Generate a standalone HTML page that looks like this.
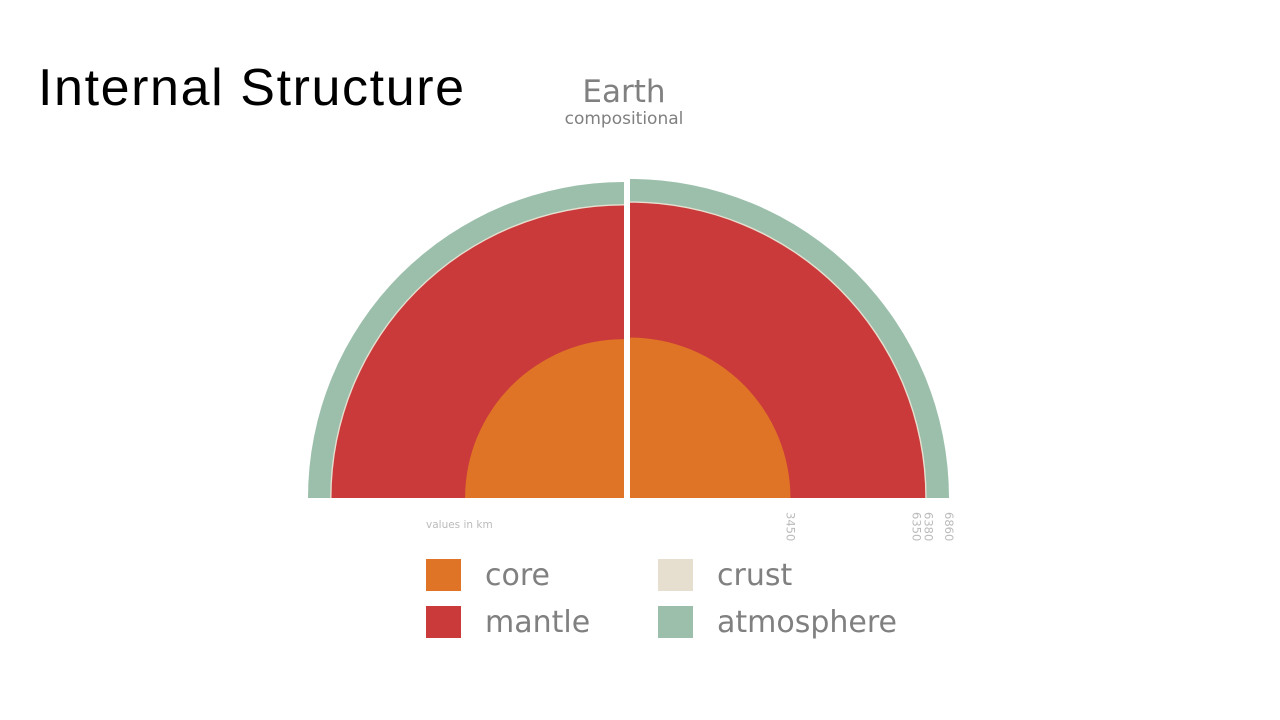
<!DOCTYPE html>
<html><head><meta charset="utf-8"><style>
body{margin:0;width:1280px;height:720px;background:#fff;overflow:hidden;font-family:"Liberation Sans",sans-serif}
#title{position:absolute;left:38px;top:58px;font-size:52px;color:#000;font-family:"Liberation Sans",sans-serif;letter-spacing:1.6px;white-space:nowrap}
svg text{font-family:"DejaVu Sans",sans-serif}
</style></head><body>
<div id="title">Internal Structure</div>
<svg id="chart" width="1280" height="720" style="position:absolute;left:0;top:0">
<text x="624" y="102" text-anchor="middle" font-size="31" fill="#808080">Earth</text>
<text x="624" y="124" text-anchor="middle" font-size="17" fill="#808080">compositional</text>
<g id="left"></g><g id="right"></g><g id="ticks"></g>
<text x="426" y="528" font-size="10.5" fill="#bbb">values in km</text>
<g>
<rect x="426" y="559" width="35" height="32" fill="#df7426"/>
<text x="485" y="585" font-size="30" fill="#808080">core</text>
<rect x="658" y="559" width="35" height="32" fill="#e6dfd0"/>
<text x="717" y="585" font-size="30" fill="#808080">crust</text>
<rect x="426" y="606" width="35" height="32" fill="#cb3a3a"/>
<text x="485" y="632" font-size="30" fill="#808080">mantle</text>
<rect x="658" y="606" width="35" height="32" fill="#9bbfab"/>
<text x="717" y="632" font-size="30" fill="#808080">atmosphere</text>
</g>
</svg>
<script>
const layers=['atmosphere','crust','mantle','core'];
const radiiKm=[6860,6380,6350,3450];
const tickLabels=['3450','6350','6380','6860'];
const colors=['#9bbfab','#e6dfd0','#cb3a3a','#df7426'];
const NS='http://www.w3.org/2000/svg';
const cy=498;
function rR(v){return v*319/6860;}
function rL(v){return v*316/6860;}
function arc(cx,r,side){
  const s=side<0?0:1;
  return `M${cx},${cy} L${cx},${cy-r} A${r},${r} 0 0 ${s} ${cx+side*r},${cy} Z`;
}
function draw(gid,cx,side,scale){
  const g=document.getElementById(gid);
  layers.forEach((n,i)=>{
    const p=document.createElementNS(NS,'path');
    p.setAttribute('d',arc(cx,scale(radiiKm[i]),side));
    p.setAttribute('fill',colors[i]);
    
    
    g.appendChild(p);
  });
}
draw('left',624,-1,rL);
draw('right',630,1,rR);
const tg=document.getElementById('ticks');
tickLabels.forEach((t,i)=>{
  const v=+t;
  let x=630+rR(v);
  if(t==='6350')x-=9; if(t==='6380')x+=2;
  const el=document.createElementNS(NS,'text');
  el.setAttribute('transform',`translate(${x-4},512) rotate(90)`);
  el.setAttribute('font-size','11.5');
  el.setAttribute('fill','#bbb');
  el.textContent=t;
  
  
  tg.appendChild(el);
});
</script>
</body></html>
